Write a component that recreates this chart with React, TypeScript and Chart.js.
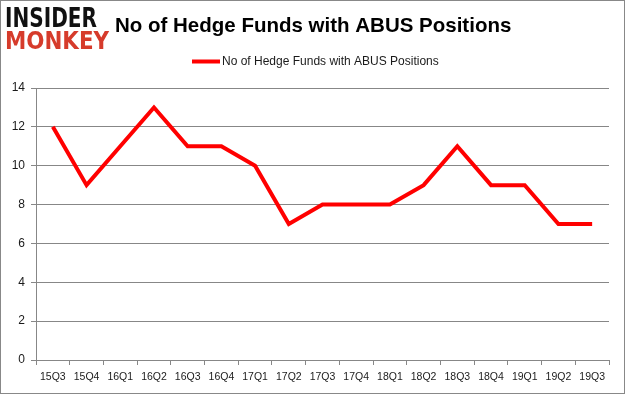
import React, { useEffect, useRef } from "react";
import { Chart, registerables } from "chart.js";

Chart.register(...registerables);

const categories = ["15Q3", "15Q4", "16Q1", "16Q2", "16Q3", "16Q4", "17Q1", "17Q2", "17Q3", "17Q4", "18Q1", "18Q2", "18Q3", "18Q4", "19Q1", "19Q2", "19Q3"];
const hedgeFunds = [12, 9, 11, 13, 11, 11, 10, 7, 8, 8, 8, 9, 11, 9, 9, 7, 7];
const seriesName = "No of Hedge Funds with ABUS Positions";
const chartTitle = "No of Hedge Funds with ABUS Positions";
const yMin = 0;
const yMax = 14;
const yStep = 2;

const GRID = "#878787";

const decorPlugin = {
  id: "decor",
  afterDraw(chart: any) {
    const ctx = chart.ctx as CanvasRenderingContext2D;
    const W = chart.width;
    const H = chart.height;
    ctx.save();
    // outer border
    ctx.strokeStyle = "#888888";
    ctx.lineWidth = 1;
    ctx.strokeRect(0.5, 0.5, W - 1, H - 1);

    // logo
    ctx.textBaseline = "alphabetic";
    ctx.textAlign = "left";
    const drawFit = (text: string, x: number, baseline: number, width: number, font: string, color: string) => {
      ctx.font = font;
      const m = ctx.measureText(text).width;
      ctx.save();
      ctx.translate(x, baseline);
      ctx.scale(width / m, 1);
      ctx.fillStyle = color;
      ctx.fillText(text, 0, 0);
      ctx.restore();
    };
    drawFit("INSIDER", 5, 27, 92, "900 26px 'DejaVu Sans'", "#111111");
    drawFit("MONKEY", 5, 49, 104, "900 25px 'DejaVu Sans'", "#d63b2b");

    // title
    ctx.font = "bold 20.5px 'Liberation Sans'";
    ctx.fillStyle = "#000000";
    ctx.textBaseline = "middle";
    ctx.fillText(chartTitle, 115, 26);

    // legend
    ctx.strokeStyle = "#ff0000";
    ctx.lineWidth = 4;
    ctx.lineCap = "butt";
    ctx.beginPath();
    ctx.moveTo(192, 61.5);
    ctx.lineTo(220, 61.5);
    ctx.stroke();
    ctx.font = "12px 'Liberation Sans'";
    ctx.fillStyle = "#1a1a1a";
    ctx.fillText(seriesName, 222, 62);
    ctx.restore();
  },
};

export default function App() {
  const ref = useRef<HTMLCanvasElement | null>(null);
  useEffect(() => {
    document.body.style.margin = "0";
    const canvas = ref.current!;
    const chart = new Chart(canvas, {
      type: "line",
      data: {
        labels: categories,
        datasets: [
          {
            label: seriesName,
            data: hedgeFunds,
            borderColor: "#ff0000",
            backgroundColor: "#ff0000",
            borderWidth: 4,
            pointRadius: 0,
            tension: 0,
            borderJoinStyle: "miter",
          },
        ],
      },
      options: {
        responsive: false,
        animation: false,
        layout: { padding: { top: 88, right: 16, left: 0, bottom: 0 } },
        plugins: {
          legend: { display: false },
          title: { display: false },
          tooltip: { enabled: false },
        },
        scales: {
          x: {
            offset: true,
            grid: {
              offset: true,
              drawOnChartArea: false,
              drawTicks: true,
              tickLength: 5,
              color: GRID,
            },
            border: { display: true, color: GRID },
            ticks: {
              padding: 6,
              maxRotation: 0,
              autoSkip: false,
              color: "#1a1a1a",
              font: { family: "'Liberation Sans'", size: 10.5 },
            },
            afterFit(scale: any) {
              scale.height = 34;
            },
          },
          y: {
            min: yMin,
            max: yMax,
            ticks: {
              stepSize: yStep,
              padding: 6,
              color: "#1a1a1a",
              font: { family: "'Liberation Sans'", size: 12 },
            },
            grid: { color: GRID, tickLength: 5, drawTicks: true },
            border: { display: true, color: GRID },
            afterFit(scale: any) {
              scale.width = 36;
            },
          },
        },
      },
      plugins: [decorPlugin],
    });
    return () => chart.destroy();
  }, []);
  return (
    <canvas
      ref={ref}
      width={625}
      height={394}
      style={{ position: "absolute", left: 0, top: 0, width: 625, height: 394 }}
    />
  );
}
